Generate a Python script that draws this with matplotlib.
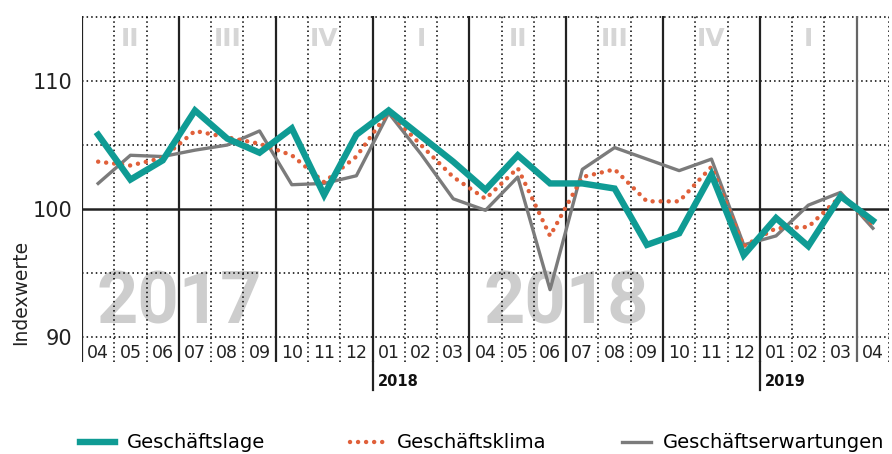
import numpy as np
import matplotlib.pyplot as plt

# data ---------------------------------------------------------------
months = ['04', '05', '06', '07', '08', '09', '10', '11', '12',
          '01', '02', '03', '04', '05', '06', '07', '08', '09', '10', '11', '12',
          '01', '02', '03', '04']
lage = [105.8, 102.3, 103.8, 107.7, 105.5, 104.4, 106.3, 101.1, 105.8,
        107.7, 105.7, 103.7, 101.5, 104.2, 102.0, 102.0, 101.6, 97.2, 98.1, 102.7, 96.4,
        99.3, 97.1, 101.0, 99.1]
klima = [103.7, 103.4, 104.0, 106.1, 105.6, 105.1, 104.2, 102.1, 104.1,
         107.6, 105.0, 102.5, 100.8, 103.2, 97.9, 102.5, 103.1, 100.6, 100.6, 103.3, 97.1,
         98.5, 98.6, 101.0, 98.8]
erwartung = [102.0, 104.2, 104.1, 104.6, 105.0, 106.1, 101.9, 102.0, 102.6,
             107.5, 104.3, 100.8, 99.9, 102.5, 93.7, 103.1, 104.8, 103.9, 103.0, 103.9, 97.2,
             97.9, 100.3, 101.3, 98.5]
quarters = ['II', 'III', 'IV', 'I', 'II', 'III', 'IV', 'I']
quarter_pos = [1, 4, 7, 10, 13, 16, 19, 22]
years_big = ['2017', '2018']
years_big_pos = [2.5, 14.5]
years_small = ['2018', '2019']
years_small_pos = [8.5, 20.5]

teal = '#0f9b94'
orange = '#e0603a'
grey = '#7b7b7b'

x = np.arange(len(months))

fig = plt.figure(figsize=(8.92, 4.54), dpi=100)
ax = fig.add_axes([82 / 892, 92 / 454, 807 / 892, 346 / 454])
ax.set_xlim(-0.5, 24.5)
ax.set_ylim(88.05, 115.08)
for s in ax.spines.values():
    s.set_visible(False)

# grid --------------------------------------------------------------
dot = (0, (1, 2))
for yv in [90, 95, 105, 110, 115]:
    ax.axhline(yv, color='black', lw=1.1, ls=dot, zorder=1)
ax.axhline(100, color='#222222', lw=1.8, zorder=1)

for b in np.arange(-0.5, 25, 1):
    if b in [-0.5, 2.5, 5.5, 8.5, 11.5, 14.5, 17.5, 20.5]:
        ax.axvline(b, color='#222222', lw=1.6, zorder=1)
    elif b == 23.5:
        ax.axvline(b, color='#666666', lw=1.6, zorder=1)
    else:
        ax.axvline(b, color='black', lw=1.1, ls=dot, zorder=1)

# year separators reach below the month labels
for yr, b in zip(years_small, years_small_pos):
    ax.axvline(b, ymin=-0.08, ymax=0, color='#222222', lw=1.6, clip_on=False)
    ax.text(b + 0.17, 88.05 - 1.55, yr, fontsize=10.5, fontweight='bold',
            color='#111111', ha='left', va='center', clip_on=False)

# background labels
for q, p in zip(quarters, quarter_pos):
    ax.text(p, 113.3, q, fontsize=18, fontweight='bold', color='#d6d6d6',
            ha='center', va='center', zorder=0)
for yr, p in zip(years_big, years_big_pos):
    ax.text(p, 92.6, yr, fontsize=52, fontweight='bold', family='Roboto',
            color='#cdcdcd', ha='center', va='center', zorder=0)

# month labels
for xi, m in zip(x, months):
    ax.text(xi, 88.75, m, fontsize=12.5, color='#222222', ha='center', va='center')

# lines
l_erw, = ax.plot(x, erwartung, color=grey, lw=2.4, zorder=3)
l_kli, = ax.plot(x, klima, color=orange, lw=3.2, ls=(0, (0.01, 1.8)), dash_capstyle='round',
                 zorder=4)
l_lage, = ax.plot(x, lage, color=teal, lw=4.6, solid_joinstyle='miter', zorder=5)

ax.set_xticks([])
ax.set_yticks([90, 100, 110])
ax.set_yticklabels(['90', '100', '110'], fontsize=15, color='#222222')
ax.tick_params(axis='y', length=0, pad=7)
fig.text(21 / 892, 1 - 292 / 454, 'Indexwerte', rotation=90, fontsize=13.5,
         color='#222222', ha='center', va='center')

# legend: one entry per legend so every entry sits where it should
for handle, label, left, hl in [(l_lage, 'Geschäftslage', 80, 1.8),
                                (l_kli, 'Geschäftsklima', 350, 1.8),
                                (l_erw, 'Geschäftserwartungen', 622, 1.5)]:
    fig.legend([handle], [label], loc='center left',
               bbox_to_anchor=(left / 892, 1 - 443 / 454),
               frameon=False, fontsize=14, handlelength=hl, handletextpad=0.6,
               borderpad=0, borderaxespad=0)

plt.savefig('out.png', dpi=100, facecolor='white')
